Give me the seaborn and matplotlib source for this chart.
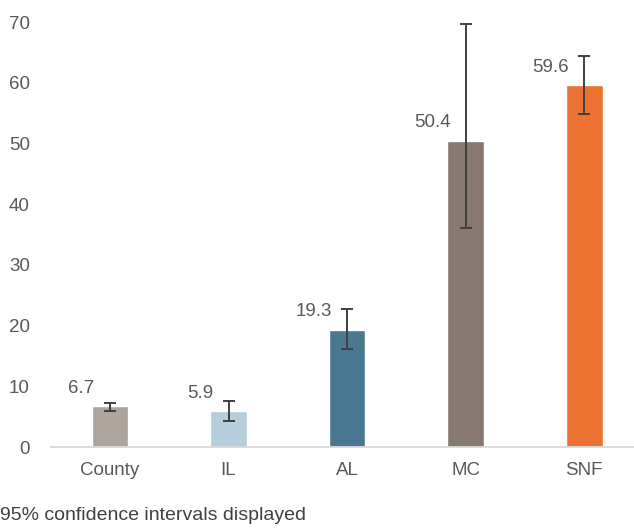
"""Bar chart with 95% confidence intervals"""
import matplotlib
matplotlib.use('Agg')
import matplotlib.pyplot as plt
import seaborn as sns
import numpy as np

# data
groups = ['County', 'IL', 'AL', 'MC', 'SNF']
rates = [6.7, 5.9, 19.3, 50.4, 59.6]
ci_low = [6.0, 4.3, 16.1, 36.1, 54.9]
ci_high = [7.3, 7.6, 22.7, 69.6, 64.4]
bar_colors = ['#ADA49D', '#B5CEDB', '#4A7891', '#877971', '#EC7231']
yticks = [0, 10, 20, 30, 40, 50, 60, 70]
note = '95% confidence intervals displayed'

sns.set_style('white')
plt.rcParams['font.family'] = ['Liberation Sans', 'DejaVu Sans']

fig = plt.figure(figsize=(6.34, 5.29), dpi=100)
ax = fig.add_axes([0.080, 0.155, 0.92, 0.8034])

# bars through seaborn, error bars added from the CI arrays
sns.barplot(x=groups, y=rates, hue=groups, palette=bar_colors, saturation=1,
            legend=False, errorbar=None, width=0.31, ax=ax)

lower = np.array(rates) - np.array(ci_low)
upper = np.array(ci_high) - np.array(rates)
ax.errorbar(range(len(groups)), rates, yerr=[lower, upper], fmt='none',
            ecolor='#404040', elinewidth=1.4, capsize=4, capthick=1.4)

# value labels up and left of each bar
for i, v in enumerate(rates):
    ax.annotate(f'{v}', xy=(i, v), xytext=(-11, 13), textcoords='offset points',
                ha='right', va='center', fontsize=13.5, color='#595959')

ax.set_xlim(-0.5, 4.42)
ax.set_ylim(0, 70)
ax.set_yticks(yticks)
ax.set_yticklabels([str(t) for t in yticks])

for s in ['top', 'right', 'left']:
    ax.spines[s].set_visible(False)
ax.spines['bottom'].set_color('#D9D9D9')
ax.spines['bottom'].set_linewidth(1.3)

ax.tick_params(axis='y', length=0, pad=15, labelsize=13.5, labelcolor='#595959')
ax.tick_params(axis='x', length=0, pad=11, labelsize=13.5, labelcolor='#595959')
ax.set_xlabel('')
ax.set_ylabel('')

# footnote
fig.text(0.0, 0.025, note, fontsize=14, color='#404040', ha='left', va='center')

fig.savefig('out.png', dpi=100)
